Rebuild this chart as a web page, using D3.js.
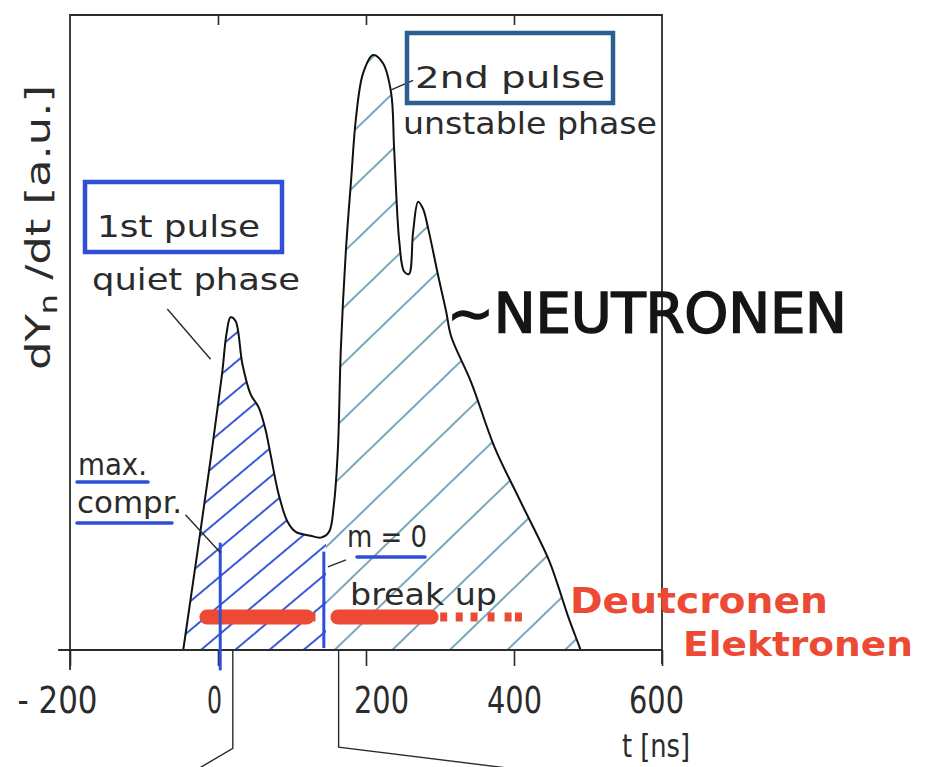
<!DOCTYPE html>
<html>
<head>
<meta charset="utf-8">
<script src="https://cdn.jsdelivr.net/npm/d3@7"></script>
<style>
  body{margin:0;background:#fff}
  svg{display:block}
</style>
</head>
<body>
<svg id="chart" width="927" height="767"></svg>
<script>
// neutron yield trace (t in ns, dYn/dt in a.u.)
const neutronT=[-47,-44,-24,-10,1,6,11.5,17,23.7,33,44,55,64,71,82,94,105,125,139,150,156.6,162,166,173,180,186.4,196,209.5,223,234,238,245,251.5,258,263.7,270.5,277,284,297.6,308.5,315,342,373.5,407.5,447,459,472.5,487.5,490]
const neutronY=[0,2.4,18.5,30,39.5,44,49.8,52.4,51.8,45,40.3,38.2,34.8,30.8,24.5,20.2,18.6,18,17.7,18.6,22.9,31.6,47.4,63.2,74.2,83.7,90.8,93.7,92.4,87.7,79,64.3,59.6,59.2,65.9,70.6,69.5,66.4,58.9,53.2,49.4,42.2,32,23.7,14.2,10.3,5.5,0.8,0]
const tTicks=[-200,0,200,400,600]
const tickLabels=["- 200","0","200","400","600"]
const topTicks=[0,200,400]
// deuteron / electron signal (red)
const redLevel=5.2
const redSolid=[[-15,120],[162,288]]
const redDots=[127,305,326,346,369,392,406]
// blue markers: max. compression and m=0 break up
const maxComprT=3
const breakUpT=143
const phaseSplitT=146

const font="'DejaVu Sans Condensed','DejaVu Sans',sans-serif"
const ink="#2b2b2b"
const blue="#2f4fd6"

const svg=d3.select("#chart")
const x=d3.scaleLinear().domain([-200,600]).range([70,662])
const y=d3.scaleLinear().domain([0,100]).range([650,15])

const data=neutronT.map((t,i)=>[t,neutronY[i]])

const defs=svg.append("defs")
function hatch(id,size,angle,color,w){
  const p=defs.append("pattern").attr("id",id)
    .attr("patternUnits","userSpaceOnUse")
    .attr("width",size).attr("height",size)
    .attr("patternTransform",`rotate(${angle})`)
  p.append("line").attr("x1",0).attr("x2",size)
    .attr("y1",size/2).attr("y2",size/2)
    .attr("stroke",color).attr("stroke-width",w)
}
hatch("hb",22,-40,"#3a5ad8",2)
hatch("ht",40,-44,"#4d8aa6",1.4)

const area=d3.area().x(d=>x(d[0])).y0(y(0)).y1(d=>y(d[1])).curve(d3.curveCatmullRom.alpha(0.5))
const line=d3.line().x(d=>x(d[0])).y(d=>y(d[1])).curve(d3.curveCatmullRom.alpha(0.5))

defs.append("clipPath").attr("id","pulse").append("path").attr("d",area(data))

svg.append("rect").attr("x",x(-60)).attr("y",0)
  .attr("width",x(phaseSplitT)-x(-60)).attr("height",y(0))
  .attr("fill","url(#hb)").attr("clip-path","url(#pulse)")
svg.append("rect").attr("x",x(phaseSplitT)).attr("y",0)
  .attr("width",x(520)-x(phaseSplitT)).attr("height",y(0))
  .attr("fill","url(#ht)").attr("clip-path","url(#pulse)")

// red bars
redSolid.forEach(s=>{
  svg.append("line").attr("x1",x(s[0])).attr("x2",x(s[1]))
    .attr("y1",y(redLevel)).attr("y2",y(redLevel))
    .attr("stroke","#ec4a35").attr("stroke-width",15).attr("stroke-linecap","round")
})
svg.selectAll(".dot").data(redDots).enter().append("rect")
  .attr("x",d=>x(d)-3.5).attr("y",y(redLevel)-4.5).attr("width",7).attr("height",9)
  .attr("fill","#ec4a35")

// curve
svg.append("path").attr("d",line(data)).attr("fill","none")
  .attr("stroke","#111").attr("stroke-width",2)

// frame + axes
const xaxis=d3.axisBottom(x).tickValues(tTicks).tickSize(16).tickPadding(21)
  .tickFormat((d,i)=>tickLabels[i])
const gx=svg.append("g").attr("transform",`translate(0,${y(0)})`).call(xaxis)
gx.select(".domain").remove()
gx.selectAll("line").attr("stroke",ink).attr("stroke-width",1.6)
const labelDx=[-13,-4,15,0,-6]
const labelW=[80,15,55,55,55]
gx.selectAll("text").attr("font-family",font).attr("font-size",37)
  .attr("fill",ink).attr("dx",(d,i)=>labelDx[i])
  .attr("textLength",(d,i)=>labelW[i]).attr("lengthAdjust","spacingAndGlyphs")
const topAxis=d3.axisTop(x).tickValues(topTicks).tickSize(-10).tickFormat("")
const gt=svg.append("g").attr("transform",`translate(0,${y(100)})`).call(topAxis)
gt.select(".domain").remove()
gt.selectAll("line").attr("stroke",ink).attr("stroke-width",1.6)

svg.append("line").attr("x1",x(-216)).attr("x2",x(600)).attr("y1",y(0)).attr("y2",y(0))
  .attr("stroke",ink).attr("stroke-width",2)
svg.append("path").attr("fill","none").attr("stroke",ink).attr("stroke-width",1.8)
  .attr("d",`M${x(-200)},${y(0)+20}V${y(100)}H${x(600)}V${y(0)+14}`)

// blue markers
svg.append("line").attr("x1",x(maxComprT)).attr("x2",x(maxComprT))
  .attr("y1",y(16.9)).attr("y2",y(-3.2)).attr("stroke",blue).attr("stroke-width",3)
svg.append("line").attr("x1",x(breakUpT)).attr("x2",x(breakUpT))
  .attr("y1",y(15.5)).attr("y2",y(0.3)).attr("stroke",blue).attr("stroke-width",3)

// leader lines
const leaders=[
  [[-68.5,53.7],[-10,45.8]],
  [[-44,21.3],[3.4,15.3]],
  [[173,14.2],[148.5,13.1]],
  [[234,88.2],[263.7,89.7]],
  [[20,0],[20,-15.5],[-75,-22]],
  [[163,0],[163,-15.3],[420,-19]]
]
leaders.forEach(l=>{
  svg.append("path").attr("fill","none").attr("stroke",ink).attr("stroke-width",1.4)
    .attr("d",d3.line().x(d=>x(d[0])).y(d=>y(d[1]))(l))
})

// labels
function label(txt,x0,y0,w,size,opt={}){
  return svg.append("text").attr("x",x0).attr("y",y0)
    .attr("font-family",opt.family||font).attr("font-size",size)
    .attr("font-weight",opt.weight||"normal").attr("fill",opt.fill||ink)
    .attr("textLength",w).attr("lengthAdjust",opt.adjust||"spacingAndGlyphs").text(txt)
}
svg.append("rect").attr("x",85).attr("y",182).attr("width",197).attr("height",70)
  .attr("fill","none").attr("stroke",blue).attr("stroke-width",4.5)
svg.append("rect").attr("x",407).attr("y",33).attr("width",206).attr("height",70)
  .attr("fill","none").attr("stroke","#2b5f92").attr("stroke-width",4.5)
label("1st pulse",97,237,163,31)
label("quiet phase",92,290,208,31)
label("2nd pulse",415,88,190,31)
label("unstable phase",403,134,254,31)
label("max.",78,475,69,30)
label("compr.",77,513,105,30)
label("m = 0",347,547,80,30)
label("break up",350,605,147,30)
label("t [ns]",622,757,68,32)
;[[77,482,148],[77,523,172],[357,557,425]].forEach(u=>{
  svg.append("line").attr("x1",u[0]).attr("x2",u[2]).attr("y1",u[1]).attr("y2",u[1])
    .attr("stroke",blue).attr("stroke-width",3.5).attr("stroke-linecap","round")
})
svg.append("text").attr("x",447).attr("y",332)
  .attr("font-family","'DejaVu Sans',sans-serif").attr("font-size",56)
  .attr("fill","#151515").attr("stroke","#151515").attr("stroke-width",1.6)
  .attr("textLength",400).attr("lengthAdjust","spacing").text("~NEUTRONEN")
label("Deutcronen",570,613,258,36,{weight:"bold",fill:"#ec4a35",family:"'DejaVu Sans',sans-serif"})
label("Elektronen",683,656,230,34,{weight:"bold",fill:"#ec4a35",family:"'DejaVu Sans',sans-serif"})

const yl=svg.append("text").attr("transform","translate(50,370) rotate(-90)")
  .attr("font-family",font).attr("font-size",34).attr("fill",ink)
  .attr("textLength",285).attr("lengthAdjust","spacingAndGlyphs")
yl.append("tspan").text("dY")
yl.append("tspan").attr("font-size",24).attr("dy",7).text("n")
yl.append("tspan").attr("dy",-7).text(" /dt  [a.u.]")
</script>
</body>
</html>
